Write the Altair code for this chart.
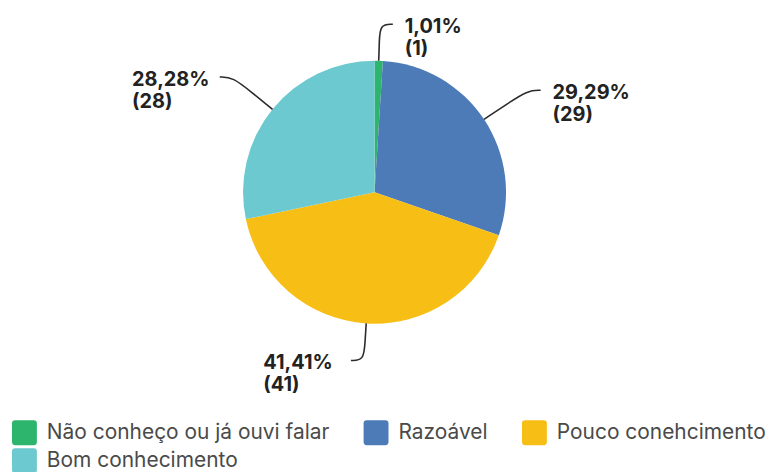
import math
import altair as alt
import pandas as pd

# ---- data ----
categories = ["Não conheço ou já ouvi falar", "Razoável", "Pouco conehcimento", "Bom conhecimento"]
counts = [1, 29, 41, 28]
colors = ["#2DB56D", "#4D7BB7", "#F7BF16", "#6CC9CF"]

# ---- layout / style ----
W, H = 736, 368
CX, CY = W / 2, H / 2
R = 132
LEAD = 36
LEAD_SIDE = 20
HOOK = 13
GAP = 12
LABEL_W = 76
LABEL_DY = 3
LINE_H = 22
FONT = "Inter"

total = sum(counts)
pct_text = [f"{c / total * 100:.2f}".replace(".", ",") + "%" for c in counts]
cnt_text = [f"({c})" for c in counts]

df = pd.DataFrame({"category": categories, "count": counts, "idx": range(len(counts))})

# leader lines & labels derived from slice mid angles
line_rows, label_rows = [], []
cum = 0
for i, c in enumerate(counts):
    mid = (cum + c / 2) / total * 2 * math.pi
    cum += c
    s, co = math.sin(mid), math.cos(mid)
    side = 1 if s >= 0 else -1
    r_end = R + LEAD + LEAD_SIDE * abs(s)
    p0 = (CX + R * s, CY - R * co)
    rm = (R + r_end) / 2
    pm = (CX + rm * s, CY - rm * co)
    p1 = (CX + r_end * s, CY - r_end * co)
    p2 = (p1[0] + side * HOOK, p1[1])
    for j, p in enumerate([p0, pm, p1, p2]):
        line_rows.append({"category": categories[i], "pt": j, "x": p[0], "y": p[1]})
    lx = p2[0] + GAP if side > 0 else p2[0] - GAP - LABEL_W
    ly = p2[1] + LABEL_DY
    label_rows.append({"category": categories[i], "x": lx, "y": ly, "text": pct_text[i]})
    label_rows.append({"category": categories[i], "x": lx, "y": ly + LINE_H, "text": cnt_text[i]})

lines_df = pd.DataFrame(line_rows)
labels_df = pd.DataFrame(label_rows)

xs = alt.Scale(domain=[0, W], nice=False, zero=False)
ys = alt.Scale(domain=[H, 0], nice=False, zero=False)

pie = alt.Chart(df).mark_arc(outerRadius=R, stroke=None).encode(
    theta=alt.Theta("count:Q", stack=True),
    order=alt.Order("idx:Q"),
    color=alt.Color(
        "category:N",
        sort=categories,
        scale=alt.Scale(domain=categories, range=colors),
        legend=alt.Legend(
            title=None,
            orient="none",
            legendX=4,
            legendY=413,
            direction="horizontal",
            columns=3,
            columnPadding=34,
            rowPadding=3,
            symbolType="M-0.75,-1L0.75,-1Q1,-1 1,-0.75L1,0.75Q1,1 0.75,1L-0.75,1Q-1,1 -1,0.75L-1,-0.75Q-1,-1 -0.75,-1Z",
            symbolSize=625,
            symbolStrokeWidth=0,
            symbolOpacity=1,
            labelFont=FONT,
            labelFontSize=21,
            labelColor="#4a4a4a",
            labelOffset=10,
            labelLimit=500,
            padding=0,
        ),
    ),
)

leaders = alt.Chart(lines_df).mark_line(
    color="#2b2b2b", strokeWidth=1.6, interpolate="basis"
).encode(
    x=alt.X("x:Q", scale=xs, axis=None),
    y=alt.Y("y:Q", scale=ys, axis=None),
    detail="category:N",
    order=alt.Order("pt:Q"),
)

labels = alt.Chart(labels_df).mark_text(
    align="left", baseline="middle", font=FONT, fontSize=20, fontWeight="bold", color="#222222"
).encode(
    x=alt.X("x:Q", scale=xs, axis=None),
    y=alt.Y("y:Q", scale=ys, axis=None),
    text="text:N",
)

chart = alt.layer(pie, leaders, labels).properties(
    width=W, height=H, padding=0, background="white"
).configure_view(stroke=None, strokeWidth=0)

chart.save("out.html", embed_options={"renderer": "svg", "actions": False})
